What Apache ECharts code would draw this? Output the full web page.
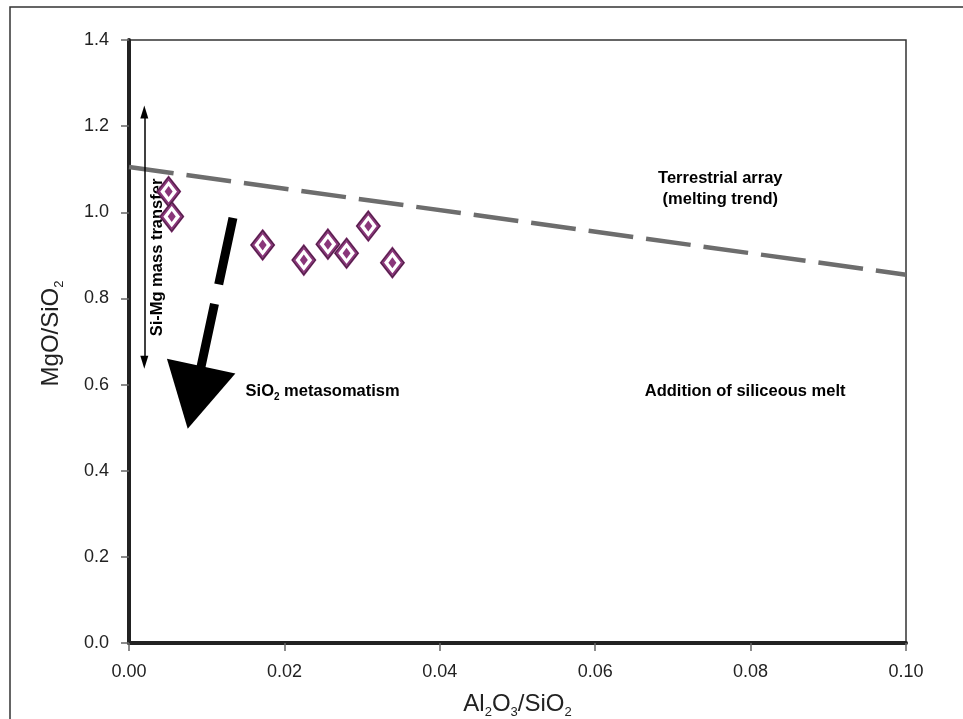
<!DOCTYPE html>
<html>
<head>
<meta charset="utf-8">
<script src="https://cdn.jsdelivr.net/npm/echarts@6/dist/echarts.min.js"></script>
<style>
  html, body { margin: 0; padding: 0; background: #fff; }
  #chart { width: 963px; height: 719px; }
</style>
</head>
<body>
<div id="chart"></div>
<script>
// sample points (Al2O3/SiO2 vs MgO/SiO2)
const alSi = [0.0051, 0.0055, 0.0172, 0.0225, 0.0256, 0.0280, 0.0308, 0.0339];
const mgSi = [1.048, 0.990, 0.924, 0.889, 0.926, 0.905, 0.968, 0.883];

// terrestrial array (melting trend), ends of the dashed line
const trendX = [0.0, 0.10];
const trendY = [1.105, 0.855];

// Si-Mg mass transfer double arrow (x, y from, y to)
const siMgX = 0.00197;
const siMgY = [0.652, 1.233];

// SiO2 metasomatism arrow: tail and head centre
const metaFrom = [0.01338, 0.987];
const metaTo = [0.00842, 0.570];

// text notes, anchored in data units
const notes = [
  { text: 'Terrestrial array\n(melting trend)', at: [0.0761, 1.054], align: 'center', rotate: 0 },
  { text: '{b|SiO}{s|2}{b| metasomatism}', at: [0.0150, 0.583], align: 'left', rotate: 0 },
  { text: 'Addition of siliceous melt', at: [0.0793, 0.583], align: 'center', rotate: 0 },
  { text: 'Si-Mg mass transfer', at: [0.0037, 0.895], align: 'center', rotate: 90 }
];

const xTicks = [0, 0.02, 0.04, 0.06, 0.08, 0.10];
const yTicks = [0, 0.2, 0.4, 0.6, 0.8, 1.0, 1.2, 1.4];

const sans = "'Liberation Sans', Arial, sans-serif";
const purple = '#8a367a';

const chart = echarts.init(document.getElementById('chart'));

const subRich = {
  s: { fontSize: 13, fontFamily: sans, color: '#222', verticalAlign: 'bottom', lineHeight: 13 }
};

chart.setOption({
  animation: false,
  backgroundColor: '#fff',
  graphic: [{
    type: 'rect',
    shape: { x: 10, y: 7, width: 1000, height: 800 },
    style: { fill: 'none', stroke: '#333', lineWidth: 1.5 },
    silent: true
  }],
  grid: {
    left: 129, right: 57, top: 40, bottom: 76,
    outerBoundsMode: 'none', containLabel: false,
    show: true, borderColor: '#333', borderWidth: 1.5
  },
  xAxis: {
    type: 'value',
    min: xTicks[0], max: xTicks[xTicks.length - 1], interval: 0.02,
    name: 'Al{s|2}O{s|3}/SiO{s|2}',
    nameLocation: 'middle', nameGap: 46,
    nameTextStyle: { fontSize: 24, fontFamily: sans, color: '#222', lineHeight: 30, rich: subRich },
    axisLine: { show: true, lineStyle: { color: '#222', width: 4 } },
    axisTick: { show: true, inside: false, length: 8, lineStyle: { color: '#666', width: 1.5 } },
    axisLabel: { fontSize: 18, fontFamily: sans, color: '#222', margin: 20,
      formatter: v => v.toFixed(2) },
    splitLine: { show: false }
  },
  yAxis: {
    type: 'value',
    min: yTicks[0], max: yTicks[yTicks.length - 1], interval: 0.2,
    name: 'MgO/SiO{s|2}',
    nameLocation: 'middle', nameGap: 63,
    nameTextStyle: { fontSize: 24, fontFamily: sans, color: '#222', lineHeight: 30,
      padding: [0, 0, 0, 16], rich: subRich },
    axisLine: { show: true, lineStyle: { color: '#222', width: 4 } },
    axisTick: { show: true, inside: false, length: 8, lineStyle: { color: '#666', width: 1.5 } },
    axisLabel: { fontSize: 18, fontFamily: sans, color: '#222', margin: 20,
      formatter: v => v.toFixed(1) },
    splitLine: { show: false }
  },
  series: [
    {
      name: 'trend',
      type: 'line',
      data: trendX.map((x, i) => [x, trendY[i]]),
      symbol: 'none',
      lineStyle: { color: '#6d6d6d', width: 4.5, type: [45, 13] },
      z: 2
    },
    {
      name: 'arrows',
      type: 'line',
      data: [],
      markLine: {
        silent: true,
        animation: false,
        label: { show: false },
        emphasis: { disabled: true },
        data: [
          [
            { coord: [siMgX, siMgY[0]], symbol: 'triangle', symbolSize: [8, 13],
              lineStyle: { color: '#000', width: 1.5, type: 'solid' } },
            { coord: [siMgX, siMgY[1]], symbol: 'triangle', symbolSize: [8, 13] }
          ],
          [
            { coord: metaFrom, symbol: 'none',
              lineStyle: { color: '#000', width: 9, type: [68, 20] } },
            { coord: metaTo, symbol: 'triangle', symbolSize: [70, 64] }
          ]
        ]
      },
      z: 3
    },
    {
      name: 'notes',
      type: 'scatter',
      symbolSize: 0,
      silent: true,
      itemStyle: { opacity: 1 },
      data: notes.map(n => ({
        value: n.at,
        label: {
          show: true, position: 'inside', formatter: n.text,
          align: n.align, verticalAlign: 'middle', rotate: n.rotate,
          fontSize: 16.5, fontWeight: 'bold', fontFamily: sans, color: '#000', lineHeight: 21,
          textBorderWidth: 0,
          rich: {
            b: { fontSize: 16.5, fontWeight: 'bold', fontFamily: sans, color: '#000' },
            s: { fontSize: 10, fontWeight: 'bold', fontFamily: sans, color: '#000', verticalAlign: 'bottom', lineHeight: 10 }
          }
        }
      })),
      z: 4
    },
    {
      name: 'samples',
      type: 'scatter',
      data: alSi.map((x, i) => [x, mgSi[i]]),
      symbol: 'diamond',
      symbolSize: [21, 27],
      itemStyle: { color: '#fff', borderColor: purple, borderWidth: 3.5, opacity: 1 },
      z: 5
    },
    {
      name: 'samplesEdge',
      type: 'scatter',
      data: alSi.map((x, i) => [x, mgSi[i]]),
      symbol: 'diamond',
      symbolSize: [23, 29],
      itemStyle: { color: 'none', borderColor: '#4a2042', borderWidth: 1, opacity: 1 },
      z: 6
    },
    {
      name: 'samplesCore',
      type: 'scatter',
      data: alSi.map((x, i) => [x, mgSi[i]]),
      symbol: 'diamond',
      symbolSize: [8, 11],
      itemStyle: { color: purple, opacity: 1 },
      z: 7
    }
  ]
});
</script>
</body>
</html>
